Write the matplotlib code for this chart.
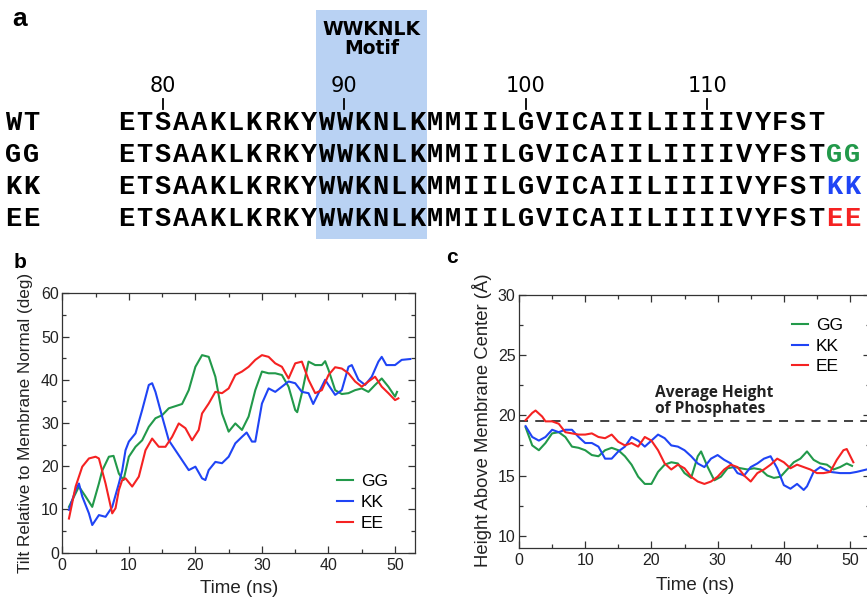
import matplotlib.pyplot as plt
from matplotlib.patches import Rectangle
from matplotlib.ticker import MultipleLocator

# ---- panel a: sequences ----
SEQ = "ETSAAKLKRKYWWKNLKMMIILGVICAIILIIIIVYFST"
FIRST_RES = 78
ROWS = ['WT', 'GG', 'KK', 'EE']
SUFFIX = {'WT': '', 'GG': 'GG', 'KK': 'KK', 'EE': 'EE'}
RES_TICKS = [80, 90, 100, 110]
MOTIF = (89, 94)  # WWKNLK

# ---- panel b: tilt (deg) ----
b_gg_t = [1, 2.5, 3.5, 4.5, 5.5, 6, 7, 7.7, 8.5, 9.2, 10, 11, 12, 13, 14, 15, 16, 17, 18, 19, 20, 21, 22, 23, 24,
          25, 26, 27, 28, 29, 30, 31, 32, 33, 34, 35, 35.3, 36, 37, 38, 39, 39.5, 40, 41, 42, 43, 44, 45, 46, 47,
          48, 49, 50, 50.3]
b_gg_v = [10.6, 15.3, 13, 10.6, 16, 19, 22.2, 22.4, 18.3, 16.8, 22.2, 24.5, 26, 29.1, 31.1, 31.8, 33.4, 33.9, 34.4,
          37.6, 43, 45.7, 45.3, 40.7, 32.2, 28, 29.9, 28.4, 31.5, 37.6, 41.9, 41.5, 41.5, 41.1, 38.4, 33, 32.5, 36.9,
          44.2, 43.4, 43.4, 44.3, 42.3, 37.6, 36.7, 36.9, 37.6, 38, 37.2, 38.8, 40.3, 38.4, 36.1, 37.2]
b_kk_t = [1, 2, 2.5, 3, 4, 4.5, 5.5, 6.5, 7.5, 8.5, 9, 9.5, 10, 11, 12, 13, 13.5, 14, 15, 16, 17, 18, 19, 20, 21,
          21.5, 22, 23, 24, 25, 26, 27, 27.7, 28.5, 29, 30, 31, 32, 33, 34, 35, 36, 37, 37.7, 38.5, 39.5, 40, 41,
          42, 43, 43.5, 44.5, 45.5, 46.5, 47.5, 48, 48.7, 50, 51, 52.3]
b_kk_v = [9.9, 14.5, 16, 13, 9.1, 6.4, 8.7, 8.3, 10.6, 16, 19, 23.7, 25.7, 27.6, 33, 38.8, 39.2, 37.2, 31.5, 26,
          23.7, 21.4, 19.1, 19.9, 17.2, 16.8, 19.1, 21, 20.7, 22.2, 25.3, 26.8, 27.8, 25.7, 25.7, 34.5, 38, 37.2,
          38.4, 39.6, 39.2, 37.2, 36.9, 34.4, 36.9, 40, 38.8, 36.5, 37.6, 43, 43.4, 40, 38.8, 40.7, 44.2, 45.3,
          43.4, 43.4, 44.6, 44.8]
b_ee_t = [1, 2, 3, 4, 5, 5.5, 6.5, 7.5, 8, 8.5, 9, 9.5, 10.5, 11.5, 12.5, 13.5, 14.5, 15.5, 16.5, 17.5, 18.5, 19.5,
          20.5, 21, 22, 23, 24, 25, 26, 27, 28, 29, 30, 31, 32, 33, 34, 35, 36, 37, 38, 39, 40, 41, 42, 43, 44, 45,
          46, 47, 48, 49, 50, 50.5]
b_ee_v = [7.9, 15.3, 19.9, 21.8, 22.2, 21.8, 16, 9.1, 10.3, 14.5, 16.8, 17.2, 15.3, 17.6, 23.7, 26.4, 24.5, 24.5,
          26.8, 29.9, 28.8, 26, 28.4, 32.2, 34.5, 37.2, 36.9, 38, 41.1, 41.9, 43, 44.6, 45.7, 45.3, 43.8, 43, 40.3,
          43.8, 44.2, 40, 36.9, 37.6, 41.1, 42.9, 42.6, 41.5, 39.6, 38.4, 39.6, 40.7, 38.4, 36.9, 35.3, 35.7]

# ---- panel c: height above membrane center (A) ----
c_gg_t = [1, 2, 3, 4, 5, 6, 7, 8, 9, 10, 11, 12, 13, 14, 15, 16, 17, 18, 19, 20, 21, 22, 23, 24, 25, 26, 27, 27.5,
          28.5, 29.5, 30.5, 31.5, 32.5, 33.5, 34.5, 35.5, 36.5, 37.5, 38.5, 39.5, 40.5, 41.5, 42.5, 43.5, 44.5,
          45.5, 46.5, 47.5, 48.5, 49.5, 50.3]
c_gg_v = [19.0, 17.5, 17.1, 17.7, 18.5, 18.6, 18.2, 17.4, 17.3, 17.1, 16.7, 16.6, 17.1, 17.3, 17.1, 16.6, 15.9,
          14.9, 14.3, 14.3, 15.3, 15.9, 16.1, 16.0, 15.2, 14.8, 16.6, 17.0, 15.7, 14.6, 14.9, 15.6, 15.7, 15.6,
          15.5, 15.6, 15.5, 15.0, 14.8, 14.9, 15.5, 16.1, 16.4, 17.0, 16.3, 16.0, 15.9, 15.5, 15.7, 16.0, 15.8]
c_kk_t = [1, 2, 3, 4, 5, 6, 7, 8, 9, 10, 11, 12, 13, 14, 15, 16, 17, 18, 19, 20, 21, 22, 23, 24, 25, 26, 27, 28,
          29, 30, 31, 32, 33, 34, 35, 36, 37, 38, 39, 40, 41, 42, 43, 43.5, 44.5, 45.5, 47, 48.5, 50, 51, 52.5]
c_kk_v = [19.1, 18.2, 17.9, 18.2, 18.8, 18.6, 18.8, 18.8, 18.2, 17.7, 17.7, 17.4, 16.4, 16.4, 17.0, 17.4, 18.2,
          17.9, 17.4, 17.9, 18.4, 18.1, 17.5, 17.4, 17.1, 16.6, 16.0, 15.7, 16.4, 16.7, 16.3, 16.0, 15.2, 15.0,
          15.7, 16.0, 16.4, 16.6, 15.6, 14.2, 13.9, 14.3, 13.8, 14.1, 15.3, 15.7, 15.3, 15.2, 15.2, 15.3, 15.5]
c_ee_t = [1, 2, 2.5, 3.5, 4, 5, 6, 7, 8, 9, 10, 11, 12, 13, 14, 15, 16, 17, 18, 19, 20, 21, 22, 23, 24, 25, 26,
          27, 28, 29, 30, 31, 32, 33, 34, 35, 36, 37, 38, 39, 40, 41, 42, 43, 44, 45, 46, 47, 48, 49, 49.5, 50.5]
c_ee_v = [19.6, 20.2, 20.4, 19.9, 19.5, 19.5, 19.3, 18.6, 18.5, 18.4, 18.4, 18.5, 18.2, 18.1, 18.4, 17.8, 17.5,
          17.7, 17.4, 18.2, 17.9, 17.1, 16.0, 15.5, 15.9, 15.6, 14.9, 14.5, 14.3, 14.5, 14.9, 15.5, 15.9, 15.7,
          15.0, 14.5, 15.2, 15.5, 15.9, 16.4, 16.1, 15.6, 15.9, 15.7, 15.5, 15.2, 15.2, 15.3, 16.3, 17.1, 17.2, 16.1]
PHOSPHATE = 19.5

COLOR = {'GG': '#22994a', 'KK': '#1f44f5', 'EE': '#f52222'}
SANS = 'Liberation Sans'
MONO = 'Liberation Mono'

W, H = 867, 597
fig = plt.figure(figsize=(W / 100, H / 100), dpi=100)

# panel a drawn in pixel coordinates
pa = fig.add_axes([0, 0, 1, 1])
pa.set_xlim(0, W)
pa.set_ylim(H, 0)
pa.axis('off')

x0, cw = 117.5, 18.15          # first letter left edge, letter pitch
baselines = [129.5, 162.5, 194.5, 226.5]
SEQ_FS = 19.5
def cx(res):
    return x0 + (res - FIRST_RES + 0.5) * cw

def put_letters(text, xstart, yb, color='black'):
    # one letter per cell so the pitch matches the reference
    for i, ch in enumerate(text):
        pa.text(xstart + (i + 0.5) * cw, yb, ch, ha='center', va='baseline', fontsize=SEQ_FS,
                fontweight='bold', family=MONO, color=color)

pa.add_patch(Rectangle((x0 + (MOTIF[0] - FIRST_RES) * cw - 1, 10), (MOTIF[1] - MOTIF[0] + 1) * cw + 2, 229,
                       facecolor='#b9d2f3', edgecolor='none', zorder=0))
pa.text(cx(91.5), 35, 'WWKNLK', ha='center', va='baseline', fontsize=13.5, fontweight='bold', family='DejaVu Sans')
pa.text(cx(91.5), 53.5, 'Motif', ha='center', va='baseline', fontsize=13.5, fontweight='bold', family='DejaVu Sans')
for r in RES_TICKS:
    pa.text(cx(r), 92.5, str(r), ha='center', va='baseline', fontsize=15, family='DejaVu Sans')
    pa.plot([cx(r), cx(r)], [98.5, 108.5], color='black', lw=1.3)
for name, yb in zip(ROWS, baselines):
    put_letters(name, 4, yb)
    put_letters(SEQ, x0, yb)
    if SUFFIX[name]:
        put_letters(SUFFIX[name], x0 + len(SEQ) * cw, yb, COLOR[name])

fig.text(12 / W, 1 - 26 / H, 'a', fontsize=19, fontweight='bold', family=SANS)
fig.text(14 / W, 1 - 268 / H, 'b', fontsize=15, fontweight='bold', family=SANS)
fig.text(446 / W, 1 - 263 / H, 'c', fontsize=15, fontweight='bold', family=SANS)


def style(ax):
    for s in ax.spines.values():
        s.set_linewidth(0.9)
        s.set_color('#333333')
    ax.tick_params(which='both', direction='in', top=True, right=True, color='#333333', width=0.9)
    ax.tick_params(which='major', length=5, labelsize=11.5, labelcolor='#222222')
    ax.tick_params(which='minor', length=3)
    ax.tick_params(axis='y', pad=2.5)
    ax.tick_params(axis='x', pad=3.5)
    for lab in ax.get_xticklabels() + ax.get_yticklabels():
        lab.set_family(SANS)


# panel b
ax = fig.add_axes([62.3 / W, 1 - 552.7 / H, 352.7 / W, 259.4 / H])
ax.plot(b_gg_t, b_gg_v, color=COLOR['GG'], lw=1.5, label='GG')
ax.plot(b_kk_t, b_kk_v, color=COLOR['KK'], lw=1.5, label='KK')
ax.plot(b_ee_t, b_ee_v, color=COLOR['EE'], lw=1.5, label='EE')
ax.set_xlim(0, 53)
ax.set_ylim(0, 60)
ax.xaxis.set_major_locator(MultipleLocator(10))
ax.xaxis.set_minor_locator(MultipleLocator(5))
ax.yaxis.set_major_locator(MultipleLocator(10))
ax.yaxis.set_minor_locator(MultipleLocator(5))
style(ax)
ax.set_xlabel('Time (ns)', fontsize=13.5, family=SANS, color='#222222')
ax.set_ylabel('Tilt Relative to Membrane Normal (deg)', fontsize=12.3, family=SANS, color='#222222')
ax.xaxis.set_label_coords(0.5, -0.105)
ax.yaxis.set_label_coords(-0.082, 0.5)
ax.legend(loc='lower right', bbox_to_anchor=(0.923, 0.085), frameon=False, borderpad=0, borderaxespad=0,
          handlelength=0.9, handletextpad=0.45, labelspacing=0.32, prop={'family': SANS, 'size': 12.5})

# panel c
ax = fig.add_axes([519 / W, 1 - 547.7 / H, 350.9 / W, 252.7 / H])
ax.plot(c_gg_t, c_gg_v, color=COLOR['GG'], lw=1.5, label='GG')
ax.plot(c_kk_t, c_kk_v, color=COLOR['KK'], lw=1.5, label='KK')
ax.plot(c_ee_t, c_ee_v, color=COLOR['EE'], lw=1.5, label='EE')
ax.axhline(PHOSPHATE, color='#333333', lw=1.3, ls=(0, (5, 4)), zorder=1)
ax.text(20.5, 19.85, 'Average Height\nof Phosphates', ha='left', va='bottom', fontsize=11.2,
        fontweight='bold', family='Open Sans', color='#222222', linespacing=1.0)
ax.set_xlim(0, 53)
ax.set_ylim(9, 30)
ax.xaxis.set_major_locator(MultipleLocator(10))
ax.xaxis.set_minor_locator(MultipleLocator(5))
ax.yaxis.set_major_locator(MultipleLocator(5))
ax.yaxis.set_minor_locator(MultipleLocator(2.5))
style(ax)
ax.set_xlabel('Time (ns)', fontsize=13.5, family=SANS, color='#222222')
ax.set_ylabel('Height Above Membrane Center (Å)', fontsize=13.3, family=SANS, color='#222222')
ax.xaxis.set_label_coords(0.5016, -0.115)
ax.yaxis.set_label_coords(-0.078, 0.503)
ax.legend(loc='upper right', bbox_to_anchor=(0.923, 0.91), frameon=False, borderpad=0, borderaxespad=0,
          handlelength=0.9, handletextpad=0.45, labelspacing=0.32, prop={'family': SANS, 'size': 12.5})

fig.savefig('out.png', dpi=100)
